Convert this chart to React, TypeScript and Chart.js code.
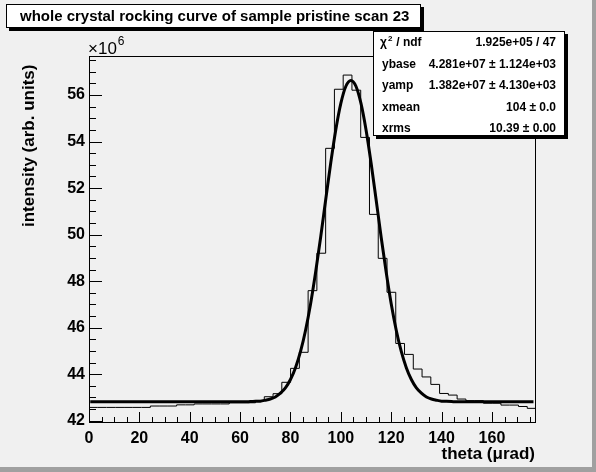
import React, { useEffect, useRef } from "react";
import { Chart, registerables } from "chart.js";

Chart.register(...registerables);

// ---- data ----
const X_MIN = 0;
const X_MAX = 177.5;
const BIN_COUNT = 51;

// histogram contents per bin (units of 1e6)
const binValues = [
  42.57, 42.57, 42.57, 42.57, 42.57, 42.57, 42.57,
  42.63, 42.63, 42.63,
  42.68, 42.68,
  42.72, 42.72, 42.72, 42.72,
  42.77, 42.77, 42.77,
  42.87, 43.03, 43.16, 43.65, 44.25, 44.94, 47.59, 49.2, 53.71, 56.25,
  56.86, 56.21, 54.18, 50.87, 48.98, 47.52, 45.32, 44.85, 44.22, 43.88,
  43.56, 43.17, 43.1, 42.93, 42.86, 42.86, 42.75, 42.75, 42.67, 42.67,
  42.61, 42.53,
];

// fitted curve
const fitX = [
  0.5, 56, 62, 64, 66, 68, 70, 72, 74, 76, 78, 80, 82, 84, 86, 88, 90, 92,
  94, 96, 98, 100, 102, 104, 106, 108, 110, 112, 114, 116, 118, 120, 122,
  124, 126, 128, 130, 132, 134, 136, 138, 140, 142, 144, 146, 152, 176.5,
];
const fitY = [
  42.81, 42.81, 42.81, 42.82, 42.83, 42.84, 42.88, 42.93, 43.02, 43.18,
  43.41, 43.77, 44.28, 44.98, 45.89, 47.03, 48.39, 49.9, 51.51, 53.09,
  54.51, 55.64, 56.38, 56.63, 56.38, 55.64, 54.51, 53.09, 51.51, 49.9,
  48.39, 47.03, 45.89, 44.98, 44.28, 43.77, 43.41, 43.18, 43.02, 42.93,
  42.88, 42.84, 42.83, 42.82, 42.81, 42.81, 42.81,
];

const Y_MIN = 41.9;
const Y_MAX = 57.68;
const xTickStep = 20;
const yTickStep = 2;
const xMinorStep = 5;
const yMinorStep = 0.5;

const titleText = "whole crystal rocking curve of sample pristine scan 23";
const xTitle = "theta (\u03bcrad)";
const yTitle = "intensity (arb. units)";
const statLabels = ["chi2 / ndf", "ybase", "yamp", "xmean", "xrms"];
const statValues = [
  "1.925e+05 / 47",
  "4.281e+07 \u00b1 1.124e+03",
  "1.382e+07 \u00b1 4.130e+03",
  "104 \u00b1 0.0",
  "10.39 \u00b1 0.00",
];

const FONT = "'Liberation Sans', Arial, Helvetica, sans-serif";

const decorPlugin = {
  id: "rootDecor",
  beforeDraw(chart: any) {
    const { ctx, width, height } = chart;
    ctx.save();
    ctx.fillStyle = "#f0f0f0";
    ctx.fillRect(0, 0, width, height);
    ctx.fillStyle = "#a0a0a0";
    ctx.fillRect(width - 4, 0, 4, height);
    ctx.fillRect(0, height - 5, width, 5);
    ctx.restore();
  },
  afterDatasetsDraw(chart: any) {
    const { ctx, chartArea } = chart;
    const xs = chart.scales.x;
    const ys = chart.scales.y;
    const L = Math.round(chartArea.left);
    const R = Math.round(chartArea.right);
    const T = Math.round(chartArea.top);
    const B = Math.round(chartArea.bottom);
    ctx.save();
    ctx.strokeStyle = "#000";
    ctx.lineWidth = 1;
    ctx.strokeRect(L + 0.5, T + 0.5, R - L - 1, B - T - 1);
    ctx.beginPath();
    // y ticks
    for (let v = Math.ceil(Y_MIN / yMinorStep) * yMinorStep; v <= Y_MAX + 1e-9; v += yMinorStep) {
      const py = Math.round(ys.getPixelForValue(v)) + 0.5;
      const major = Math.abs(v / yTickStep - Math.round(v / yTickStep)) < 1e-6;
      ctx.moveTo(L, py);
      ctx.lineTo(L + (major ? 13 : 7), py);
    }
    // x ticks
    for (let v = X_MIN; v <= X_MAX + 1e-9; v += xMinorStep) {
      const px = Math.round(xs.getPixelForValue(v)) + 0.5;
      const major = Math.abs(v / xTickStep - Math.round(v / xTickStep)) < 1e-6;
      ctx.moveTo(px, B);
      ctx.lineTo(px, B - (major ? 11 : 6));
    }
    ctx.stroke();
    ctx.restore();
  },
  afterDraw(chart: any) {
    const { ctx, chartArea } = chart;
    ctx.save();
    ctx.fillStyle = "#000";
    ctx.textBaseline = "alphabetic";

    // x10^6
    ctx.font = `17px ${FONT}`;
    ctx.textAlign = "left";
    ctx.fillText("\u00d710", chartArea.left - 1, 54);
    const w10 = ctx.measureText("\u00d710").width;
    ctx.font = `12px ${FONT}`;
    ctx.fillText("6", chartArea.left + w10, 45);

    // axis titles
    ctx.font = `bold 17px ${FONT}`;
    ctx.textAlign = "right";
    ctx.fillText(xTitle, chartArea.right - 1, 459);
    ctx.save();
    ctx.translate(34, 227);
    ctx.rotate(-Math.PI / 2);
    ctx.textAlign = "left";
    ctx.fillText(yTitle, 0, 0);
    ctx.restore();

    // title box
    ctx.fillStyle = "#000";
    ctx.fillRect(9, 7, 415, 24);
    ctx.fillStyle = "#fff";
    ctx.fillRect(6, 4, 415, 24);
    ctx.strokeStyle = "#000";
    ctx.lineWidth = 1;
    ctx.strokeRect(6.5, 4.5, 414, 23);
    ctx.fillStyle = "#000";
    ctx.font = `bold 15px ${FONT}`;
    ctx.textAlign = "left";
    ctx.textBaseline = "middle";
    ctx.fillText(titleText, 20, 16.5);

    // stats box
    const bx = 373, by = 31, bw = 192, bh = 105;
    ctx.fillStyle = "#000";
    ctx.fillRect(bx + 3, by + 3, bw, bh);
    ctx.fillStyle = "#fff";
    ctx.fillRect(bx, by, bw, bh);
    ctx.strokeRect(bx + 0.5, by + 0.5, bw - 1, bh - 1);
    ctx.fillStyle = "#000";
    ctx.font = `bold 12px ${FONT}`;
    for (let i = 0; i < statLabels.length; i++) {
      const cy = 43 + i * 21.4;
      ctx.textAlign = "left";
      if (i === 0) {
        ctx.fillText("\u03c7", 380, cy);
        const wc = ctx.measureText("\u03c7").width;
        ctx.font = `bold 8px ${FONT}`;
        ctx.fillText("2", 380 + wc + 1, cy - 4);
        ctx.font = `bold 12px ${FONT}`;
        ctx.fillText(" / ndf", 380 + wc + 6, cy);
      } else {
        ctx.fillText(statLabels[i], 382, cy);
      }
      ctx.textAlign = "right";
      ctx.fillText(statValues[i], 556, cy);
    }
    ctx.restore();
  },
};

export default function App() {
  const ref = useRef<HTMLCanvasElement | null>(null);
  useEffect(() => {
    if (!ref.current) return;
    const binWidth = (X_MAX - X_MIN) / BIN_COUNT;
    const histPoints = binValues.map((v, i) => ({ x: X_MIN + i * binWidth, y: v }));
    histPoints.push({ x: X_MAX, y: binValues[binValues.length - 1] });
    const fitPoints = fitX.map((x, i) => ({ x, y: fitY[i] }));
    const tickFont = { family: FONT, size: 16, weight: "bold" as const };
    const chart = new Chart(ref.current, {
      type: "line",
      data: {
        datasets: [
          {
            label: "fit",
            data: fitPoints,
            borderColor: "#000",
            borderWidth: 3,
            pointRadius: 0,
            cubicInterpolationMode: "monotone",
            fill: false,
            order: 0,
          },
          {
            label: "hist",
            data: histPoints,
            borderColor: "#000",
            borderWidth: 1,
            pointRadius: 0,
            stepped: true,
            fill: false,
            order: 1,
          },
        ],
      },
      options: {
        responsive: false,
        animation: false,
        devicePixelRatio: 1,
        layout: { padding: { left: 0, top: 56, right: 60, bottom: 0 } },
        plugins: {
          legend: { display: false },
          title: { display: false },
          tooltip: { enabled: false },
        },
        scales: {
          x: {
            type: "linear",
            min: X_MIN,
            max: X_MAX,
            ticks: {
              stepSize: xTickStep,
              includeBounds: false,
              autoSkip: false,
              maxRotation: 0,
              color: "#000",
              font: tickFont,
              padding: 6,
              callback: (v: any) => String(Math.round(v)),
            },
            grid: { display: false, drawTicks: false },
            border: { display: false },
            afterFit: (s: any) => {
              s.height = 49;
            },
          },
          y: {
            type: "linear",
            min: Y_MIN,
            max: Y_MAX,
            ticks: {
              stepSize: yTickStep,
              includeBounds: false,
              autoSkip: false,
              color: "#000",
              font: tickFont,
              padding: 4,
              callback: (v: any) => String(Math.round(v)),
            },
            grid: { display: false, drawTicks: false },
            border: { display: false },
            afterFit: (s: any) => {
              s.width = 89;
            },
          },
        },
      },
      plugins: [decorPlugin],
    });
    return () => chart.destroy();
  }, []);
  return (
    <div style={{ position: "absolute", left: 0, top: 0, width: 596, height: 472 }}>
      <canvas ref={ref} width={596} height={472} style={{ display: "block" }} />
    </div>
  );
}
